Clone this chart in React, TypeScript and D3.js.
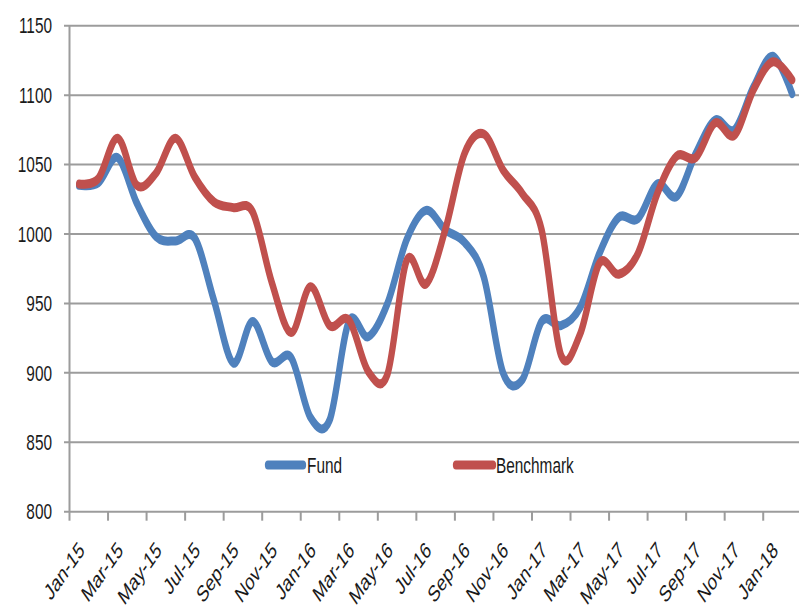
import React from 'react';
import * as d3 from 'd3';

const months = [
  'Jan-15','Feb-15','Mar-15','Apr-15','May-15','Jun-15','Jul-15','Aug-15','Sep-15','Oct-15','Nov-15','Dec-15',
  'Jan-16','Feb-16','Mar-16','Apr-16','May-16','Jun-16','Jul-16','Aug-16','Sep-16','Oct-16','Nov-16','Dec-16',
  'Jan-17','Feb-17','Mar-17','Apr-17','May-17','Jun-17','Jul-17','Aug-17','Sep-17','Oct-17','Nov-17','Dec-17',
  'Jan-18','Feb-18'
];

const fund = [
  1035, 1037, 1055, 1022, 998, 995, 997, 952, 907, 937, 908, 911,
  868, 866, 937, 926, 950, 996, 1017, 1003, 994, 969, 900, 895,
  937, 934, 947, 986, 1012, 1011, 1036, 1027, 1058, 1082, 1075, 1106,
  1128, 1101
];

const benchmark = [
  1036, 1040, 1069, 1035, 1044, 1069, 1041, 1023, 1019, 1016, 965, 929,
  962, 934, 938, 901, 899, 981, 964, 1003, 1058, 1072, 1046, 1029,
  1003, 913, 928, 979, 971, 986, 1029, 1056, 1055, 1080, 1071, 1104,
  1124, 1111
];

const yTicks = [800, 850, 900, 950, 1000, 1050, 1100, 1150];
const tickLabels = months.filter((_, i) => i % 2 === 0);

const W = 799;
const H = 611;
const SX = 0.7;
const FONT = '"Liberation Sans", Arial, sans-serif';
const FS = 22;
const BLUE = '#4F81BD';
const RED = '#C0504D';
const GRID = '#9c9c9c';
const TEXT = '#1a1a1a';

export default function App() {
  const x0 = 69.5;
  const step = 19.27;
  const x = d3.scaleBand<string>().domain(months).range([x0, x0 + step * months.length]).padding(0);
  const y = d3.scaleLinear().domain([800, 1150]).range([511.7, 25.7]);
  const cx = (i: number) => (x(months[i]) as number) + x.bandwidth() / 2;

  const line = d3
    .line<number>()
    .x((_, i) => cx(i) / SX)
    .y((d) => y(d))
    .curve(d3.curveCardinal.tension(0));

  return (
    <svg
      width={W}
      height={H}
      viewBox={`0 0 ${W} ${H}`}
      style={{ position: 'absolute', left: 0, top: 0, display: 'block', background: '#fff' }}
    >
      <rect x={0} y={0} width={W} height={H} fill="#fff" />
      {yTicks.map((t) => (
        <line key={t} x1={64} x2={W} y1={y(t)} y2={y(t)} stroke={GRID} strokeWidth={2} />
      ))}
      <line x1={x0} x2={x0} y1={y(1150)} y2={y(800)} stroke={GRID} strokeWidth={2} />
      {tickLabels.map((m) => (
        <line key={m} x1={x(m) as number} x2={x(m) as number} y1={y(800)} y2={y(800) + 9} stroke={GRID} strokeWidth={2} />
      ))}
      {yTicks.map((t) => (
        <g key={t} transform={`translate(52, ${y(t)}) scale(${SX},1)`}>
          <text textAnchor="end" dy="0.35em" fontFamily={FONT} fontSize={FS} fill={TEXT}>
            {t}
          </text>
        </g>
      ))}
      {tickLabels.map((m) => (
        <g key={m} transform={`translate(${(x(m) as number) + 12}, 546) scale(${SX},1) rotate(-45)`}>
          <text textAnchor="end" dy="0.35em" fontFamily={FONT} fontSize={23} fill={TEXT}>
            {m}
          </text>
        </g>
      ))}
      <g transform={`scale(${SX},1)`}>
        <path d={line(fund) || ''} fill="none" stroke={BLUE} strokeWidth={9} strokeLinecap="round" strokeLinejoin="round" />
        <path d={line(benchmark) || ''} fill="none" stroke={RED} strokeWidth={9} strokeLinecap="round" strokeLinejoin="round" />
        <line x1={268 / SX} x2={303 / SX} y1={465} y2={465} stroke={BLUE} strokeWidth={9} strokeLinecap="round" />
        <line x1={456 / SX} x2={493 / SX} y1={465} y2={465} stroke={RED} strokeWidth={9} strokeLinecap="round" />
      </g>
      <g transform={`translate(307, 465) scale(${SX},1)`}>
        <text dy="0.35em" fontFamily={FONT} fontSize={FS} fill={TEXT}>Fund</text>
      </g>
      <g transform={`translate(496, 465) scale(${SX},1)`}>
        <text dy="0.35em" fontFamily={FONT} fontSize={FS} fill={TEXT}>Benchmark</text>
      </g>
    </svg>
  );
}
